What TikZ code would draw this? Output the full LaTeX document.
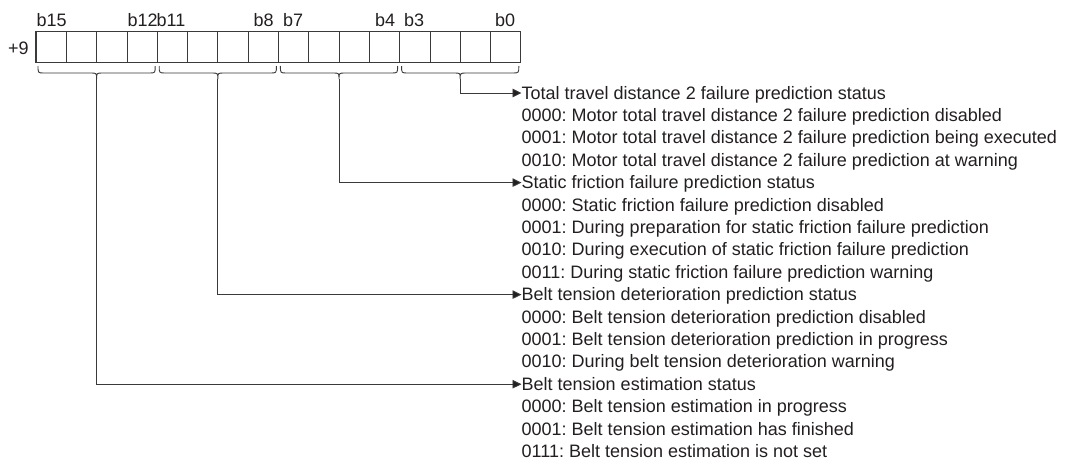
\documentclass[tikz,border=0pt]{standalone}
\usepackage{fontspec}
\setmainfont{Liberation Sans}
\usetikzlibrary{arrows.meta}
\definecolor{ink}{HTML}{231F20}
\definecolor{linec}{HTML}{3A3A3A}
\frenchspacing
\begin{document}
\begin{tikzpicture}[x=1pt,y=-1pt,
  txt/.style={anchor=base west,inner sep=0pt,text=ink,font=\fontsize{18}{21}\selectfont\frenchspacing},
  hdr/.style={txt,text height=12pt,text depth=0pt},
  cell/.style={draw=linec,line width=0.7pt,minimum width=30.3pt,minimum height=30.4pt,inner sep=0pt,outer sep=0pt},
  brace/.style={draw=linec,line width=0.9pt},
  conn/.style={draw=linec,line width=0.9pt,-{Triangle[length=9pt,width=8.5pt,fill=ink]}}
]
\useasboundingbox (0,0) rectangle (1078,463);
% register cells
\foreach \i in {0,...,15} {
  \node[cell] (c\i) at ({36+30.3*(15-\i)+15.15},47) {};
}
\draw[draw=linec,line width=1.2pt] (c15.north west) rectangle (c0.south east);
% labels
\node[txt] (l15) at (36.5,26) {b15};
\node[txt] (l12) at (127.5,26) {b12};
\node[txt] (l11) at (156.5,26) {b11};
\node[txt] (l8) at (253.5,26) {b8};
\node[txt] (l7) at (283,26) {b7};
\node[txt] (l4) at (375,26) {b4};
\node[txt] (l3) at (404,26) {b3};
\node[txt] (l0) at (495,26) {b0};
\node[txt] (p9) at (8,54.5) {+9};
% braces
\foreach \g/\n in {0/d,1/c,2/b,3/a} {
  \pgfmathsetmacro{\xl}{36+121.2*\g+2}
  \pgfmathsetmacro{\xr}{36+121.2*(\g+1)-2}
  \pgfmathsetmacro{\cx}{36+121.2*\g+60.6}
  \draw[brace] (\xl,66) .. controls (\xl,73) .. (\xl+6,73) -- (\cx-6,73)
    .. controls (\cx,73) .. (\cx,79) .. controls (\cx,73) .. (\cx+6,73)
    -- (\xr-6,73) .. controls (\xr,73) .. (\xr,66);
  \coordinate (tip\n) at (\cx,79);
}
% texts
\node[hdr] (ha) at (521.5,99) {Total travel distance 2 failure prediction status};
\node[txt] (a1) at (521.5,121.4) {0000: Motor total travel distance 2 failure prediction disabled};
\node[txt] (a2) at (521.5,143.8) {0001: Motor total travel distance 2 failure prediction being executed};
\node[txt] (a3) at (521.5,166.2) {0010: Motor total travel distance 2 failure prediction at warning};
\node[hdr] (hb) at (521.5,188.6) {Static friction failure prediction status};
\node[txt] (b1) at (521.5,211) {0000: Static friction failure prediction disabled};
\node[txt] (b2) at (521.5,233.4) {0001: During preparation for static friction failure prediction};
\node[txt] (b3) at (521.5,255.8) {0010: During execution of static friction failure prediction};
\node[txt] (b4) at (521.5,278.2) {0011: During static friction failure prediction warning};
\node[hdr] (hc) at (521.5,300.6) {Belt tension deterioration prediction status};
\node[txt] (c1t) at (521.5,323) {0000: Belt tension deterioration prediction disabled};
\node[txt] (c2t) at (521.5,345.4) {0001: Belt tension deterioration prediction in progress};
\node[txt] (c3t) at (521.5,367.8) {0010: During belt tension deterioration warning};
\node[hdr] (hd) at (521.5,390.2) {Belt tension estimation status};
\node[txt] (d1) at (521.5,412.6) {0000: Belt tension estimation in progress};
\node[txt] (d2) at (521.5,435) {0001: Belt tension estimation has finished};
\node[txt] (d3) at (521.5,457.4) {0111: Belt tension estimation is not set};
% connectors
\draw[conn] (tipa) |- (ha.west);
\draw[conn] (tipb) |- (hb.west);
\draw[conn] (tipc) |- (hc.west);
\draw[conn] (tipd) |- (hd.west);
\end{tikzpicture}
\end{document}
